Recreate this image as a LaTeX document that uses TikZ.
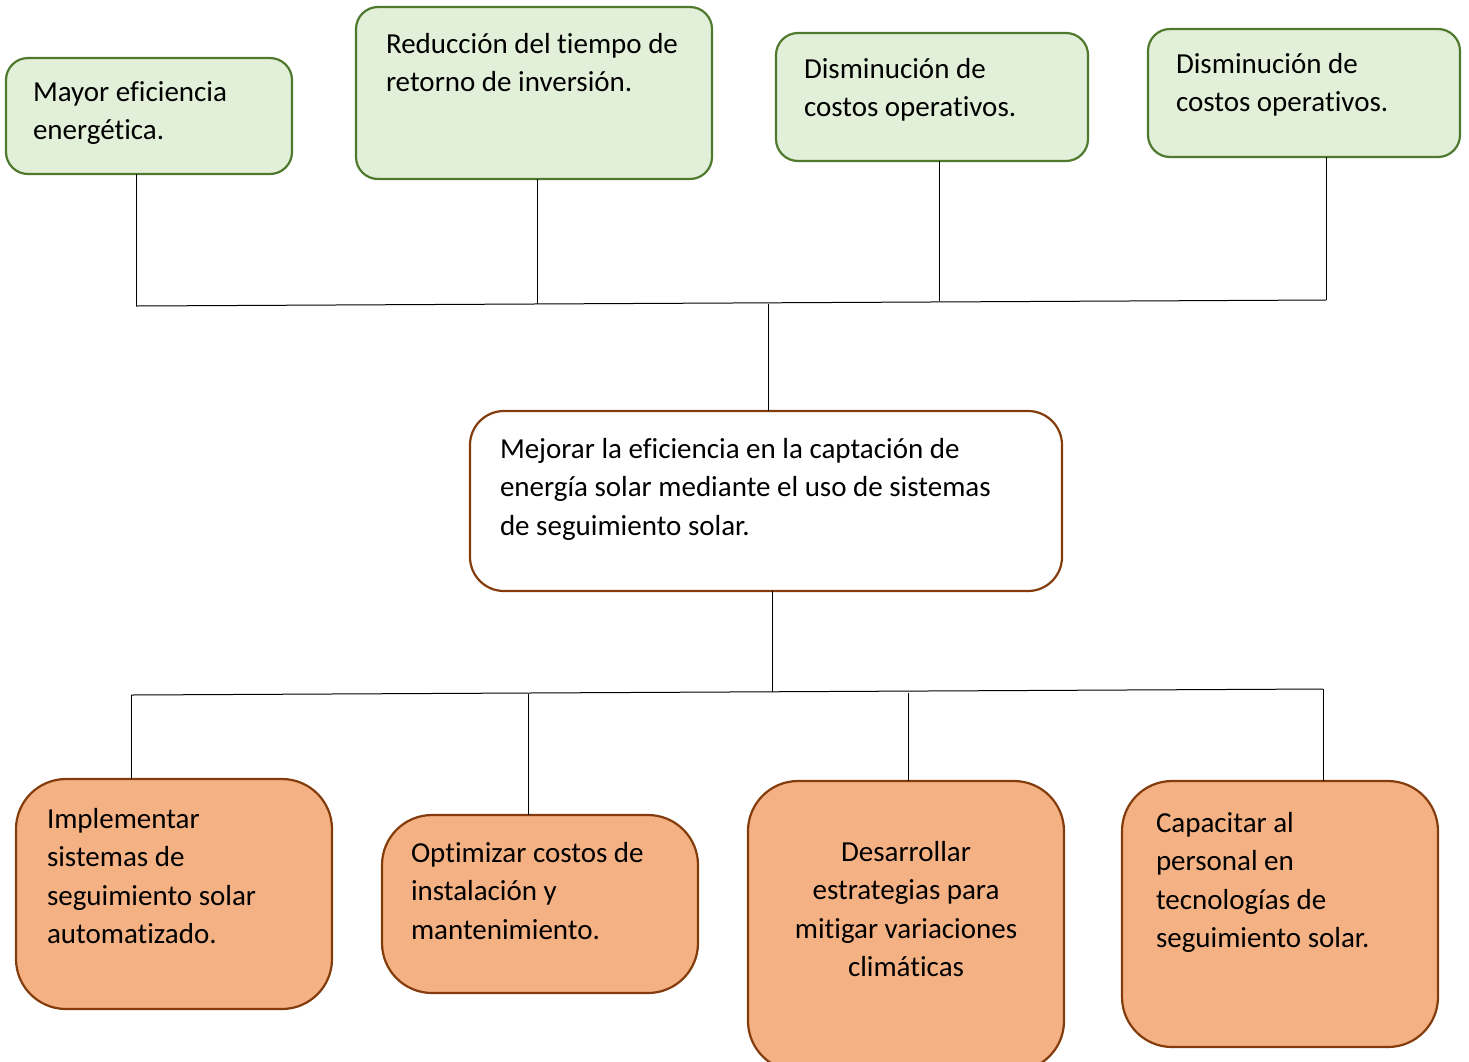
\documentclass[tikz,border=0pt]{standalone}
\usepackage{fontspec}
\setmainfont{Carlito}[Ligatures=NoCommon]
\definecolor{verdefondo}{HTML}{E2EFD9}
\definecolor{verdeborde}{HTML}{4F7A2E}
\definecolor{naranja}{HTML}{F4B183}
\definecolor{marron}{HTML}{843C0C}
% texto de una caja: ancho, alto, primera linea base, texto
\newcommand{\caja}[4]{\parbox[c][#2pt][t]{#1pt}{\raggedright\rule{0pt}{#3pt}#4}}

\begin{document}
\begin{tikzpicture}[x=1pt,y=-1pt,
    every node/.style={font=\fontsize{29}{38.5}\selectfont},
    efecto/.style={draw=verdeborde, fill=verdefondo, line width=2.2pt, rounded corners=22pt, inner ysep=0pt, outer sep=0pt, anchor=north west},
    objetivo/.style={draw=marron, fill=white, line width=2.2pt, rounded corners=34pt, inner ysep=0pt, outer sep=0pt, anchor=north west},
    medio/.style={draw=marron, fill=naranja, line width=2.2pt, rounded corners=50pt, inner ysep=0pt, outer sep=0pt, anchor=north west},
    linea/.style={black, line width=1pt}]
        \useasboundingbox (0, 0) rectangle (1469, 1061);

        \node[efecto, inner xsep=27pt] (e1) at (6, 58) { \caja{232}{116}{43}{Mayor eficiencia\\energética.} };
        \node[efecto, inner xsep=30pt] (e2) at (356, 7) { \caja{296}{172}{46}{Reducción del tiempo de\\retorno de inversión.} };
        \node[efecto, inner xsep=28pt] (e3) at (776, 33) { \caja{256}{128}{45}{Disminución de\\costos operativos.} };
        \node[efecto, inner xsep=28pt] (e4) at (1148, 29) { \caja{256}{128}{44}{Disminución de\\costos operativos.} };

        \node[objetivo, inner xsep=30pt] (obj) at (470, 411) { \caja{532}{180}{47}{Mejorar la eficiencia en la captación de\\energía solar mediante el uso de sistemas\\de seguimiento solar.} };

        \node[medio, inner xsep=31pt] (m1) at (16, 779) { \caja{254}{230}{49}{Implementar\\sistemas de\\seguimiento solar\\automatizado.} };
        \node[medio, inner xsep=29pt] (m2) at (382, 815) { \caja{258}{178}{47}{Optimizar costos de\\instalación y\\mantenimiento.} };
        \node[medio, inner xsep=20pt] (m3) at (748, 781) { \caja{276}{290}{80}{\centering Desarrollar\\estrategias para\\mitigar variaciones\\climáticas} };
        \node[medio, inner xsep=34pt] (m4) at (1122, 781) { \caja{248}{266}{51}{Capacitar al\\personal en\\tecnologías de\\seguimiento solar.} };

        % arriba
        \coordinate (s1) at (136, 306);
        \coordinate (s2) at (537, 303.5);
        \coordinate (s3) at (939, 301);
        \coordinate (s4) at (1326, 300);
        \coordinate (sc) at (768, 304);
        \draw[linea] (s1) -- (s4);
        \draw[linea] (e1.south -| s1) -- (s1);
        \draw[linea] (e2.south -| s2) -- (s2);
        \draw[linea] (e3.south -| s3) -- (s3);
        \draw[linea] (e4.south -| s4) -- (s4);
        \draw[linea] (obj.north -| sc) -- (sc);

        % abajo
        \coordinate (bc) at (772, 692);
        \coordinate (i1) at (131, 695);
        \coordinate (i2) at (528, 694);
        \coordinate (i3) at (908, 692.5);
        \coordinate (i4) at (1323, 689);
        \draw[linea] (obj.south -| bc) -- (bc);
        \draw[linea] (i1) -- (i4);
        \draw[linea] (i1) -- (m1.north -| i1);
        \draw[linea] (i2) -- (m2.north -| i2);
        \draw[linea] (i3) -- (m3.north -| i3);
        \draw[linea] (i4) -- (m4.north -| i4);

    \end{tikzpicture}
\end{document}
